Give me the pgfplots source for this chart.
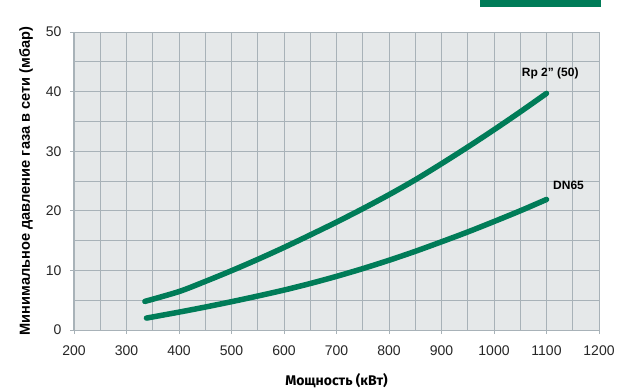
\documentclass[border=0pt]{standalone}
\usepackage{pgfplots}
\pgfplotsset{compat=1.18}
\usepackage{fontspec}
\setmainfont{Liberation Sans}
\newfontfamily\fira{Fira Sans}
\definecolor{curvegreen}{RGB}{0,124,88}
\definecolor{plotbg}{RGB}{229,232,233}
\definecolor{gridgray}{RGB}{168,178,184}
\begin{document}
\begin{tikzpicture}
\useasboundingbox (-74pt,-61pt) rectangle (544pt,330pt);
\fill[curvegreen] (406pt,323pt) rectangle (527pt,336pt);
\begin{axis}[
  at={(0pt,0pt)}, anchor=south west,
  scale only axis, width=525pt, height=298pt,
  xmin=200, xmax=1200, ymin=0, ymax=50,
  xtick={200,300,...,1200}, ytick={0,10,...,50},
  minor xtick={250,350,...,1150}, minor ytick={5,15,...,45},
  grid=both,
  major grid style={gridgray, line width=0.9pt},
  minor grid style={gridgray, line width=0.9pt},
  axis background/.style={fill=plotbg},
  axis line style={gridgray, line width=1pt},
  tick style={gridgray, line width=0.8pt},
  major tick length=4pt, minor tick length=0pt,
  tick align=outside,
  xtick pos=bottom, ytick pos=left,
  tick label style={font=\fontsize{14}{16}\selectfont, text=black!85},
  /pgf/number format/assume math mode=true,
  /pgf/number format/1000 sep={},
  xticklabel style={yshift=-8pt},
  yticklabel style={xshift=-5pt},
  xlabel={\fira\bfseries Мощность (кВт)},
  xlabel style={font=\fontsize{14}{16}\selectfont, yshift=-11pt},
  ylabel={\bfseries Минимальное давление газа в сети (мбар)},
  ylabel style={font=\fontsize{14.6}{16}\selectfont, yshift=6pt},
  clip=false,
]
\addplot[curvegreen, line width=5.5pt, line cap=round, line join=round, smooth] coordinates {
(335,4.8) (400,6.45) (450,8.15) (500,9.95) (550,11.85) (600,13.85) (650,15.95) (700,18.1) (750,20.35) (800,22.7) (850,25.2) (900,27.9) (950,30.7) (1000,33.6) (1050,36.6) (1100,39.7)
};
\addplot[curvegreen, line width=5.5pt, line cap=round, line join=round, smooth] coordinates {
(338,2.0) (400,3.0) (450,3.85) (500,4.75) (550,5.7) (600,6.7) (650,7.8) (700,9.0) (750,10.3) (800,11.7) (850,13.2) (900,14.8) (950,16.45) (1000,18.2) (1050,20.0) (1100,21.9)
};
\node[font=\bfseries\fontsize{12}{14}\selectfont] at (axis cs:1107,43.0) {Rp 2” (50)};
\node[font=\bfseries\fontsize{12}{14}\selectfont] at (axis cs:1142,24.3) {DN65};
\end{axis}
\end{tikzpicture}
\end{document}
